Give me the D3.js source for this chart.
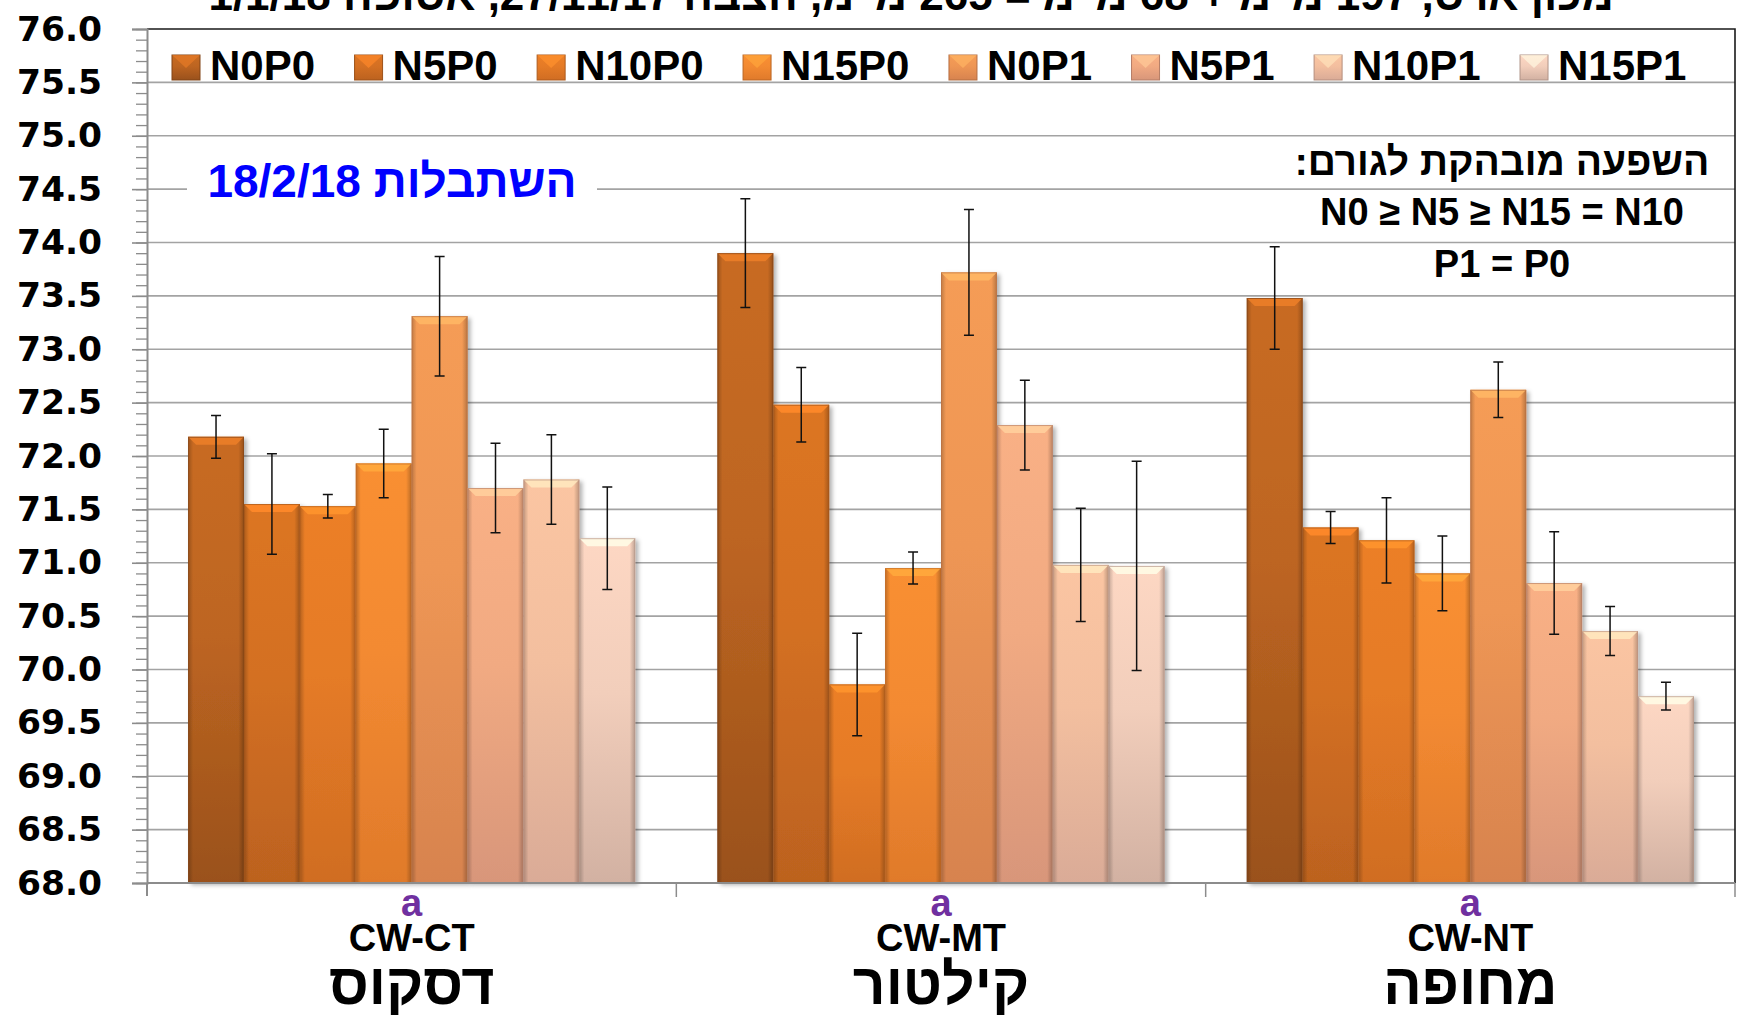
<!DOCTYPE html>
<html><head><meta charset="utf-8">
<script src="https://cdn.jsdelivr.net/npm/d3@7"></script>
<style>html,body{margin:0;padding:0;background:#fff;overflow:hidden}</style>
</head><body><svg id="c" width="1738" height="1021"></svg>
<script>
// ---------- data ----------
const categories = ["CW-CT", "CW-MT", "CW-NT"];
const categoryNames = ["דסקוס", "קילטור", "מחופה"];
const categoryLetters = ["a", "a", "a"];
const seriesNames = ["N0P0", "N5P0", "N10P0", "N15P0", "N0P1", "N5P1", "N10P1", "N15P1"];
const valuesCT = [72.18, 71.55, 71.53, 71.93, 73.31, 71.70, 71.78, 71.23];
const valuesMT = [73.90, 72.48, 69.86, 70.95, 73.72, 72.29, 70.98, 70.97];
const valuesNT = [73.48, 71.33, 71.21, 70.90, 72.62, 70.81, 70.36, 69.75];
const errorsCT = [0.20, 0.47, 0.11, 0.32, 0.56, 0.42, 0.42, 0.48];
const errorsMT = [0.51, 0.35, 0.48, 0.15, 0.59, 0.42, 0.53, 0.98];
const errorsNT = [0.48, 0.15, 0.40, 0.35, 0.26, 0.48, 0.23, 0.13];
const yTickLabels = ["68.0","68.5","69.0","69.5","70.0","70.5","71.0","71.5","72.0","72.5","73.0","73.5","74.0","74.5","75.0","75.5","76.0"];
const titleText = "מכון ארס, 197 מ\"מ + 68 מ\"מ = 265 מ\"מ, הצבה 27/11/17, אסופה 1/1/18";
const dateNote = "השתבלות 18/2/18";
const effectNote = ["השפעה מובהקת לגורם:", "N0 ≥ N5 ≥ N15 = N10", "P1 = P0"];

// ---------- styles ----------
const colTop = ["#C86B22", "#DC7524", "#EC7F27", "#F98F33", "#F59C56", "#F9B085", "#FBC5A2", "#FDD7C3"];
const colBot = ["#9A511C", "#BC621F", "#D06D23", "#E07A2B", "#D7834F", "#D8967A", "#DAAB97", "#D2B1A2"];

const table = categories.map((c, i) => ({
  cat: c,
  vals: [valuesCT, valuesMT, valuesNT][i],
  errs: [errorsCT, errorsMT, errorsNT][i]
}));

const L = 147, R = 1735, T = 29, B = 883;
const svg = d3.select("#c");
const defs = svg.append("defs");

const x0 = d3.scaleBand().domain(categories).range([L, R]).padding(0);
const x1 = d3.scaleBand().domain(seriesNames).range([0, x0.bandwidth()]).paddingInner(0).paddingOuter(0.735);
const y = d3.scaleLinear().domain([68, 76]).range([B, T]);
const yTicks = yTickLabels.map(Number);

// gradients
seriesNames.forEach((s, i) => {
  const g = defs.append("linearGradient").attr("id", "g" + i).attr("x1", 0).attr("y1", 0).attr("x2", 0).attr("y2", 1);
  g.append("stop").attr("offset", "0%").attr("stop-color", colTop[i]);
  g.append("stop").attr("offset", "45%").attr("stop-color", d3.interpolateRgb(colTop[i], colBot[i])(0.25));
  g.append("stop").attr("offset", "100%").attr("stop-color", colBot[i]);
});
const side = defs.append("linearGradient").attr("id", "side").attr("x1", 0).attr("y1", 0).attr("x2", 1).attr("y2", 0);
side.append("stop").attr("offset", "0%").attr("stop-color", "#000").attr("stop-opacity", 0.22);
side.append("stop").attr("offset", "9%").attr("stop-color", "#000").attr("stop-opacity", 0.0);
side.append("stop").attr("offset", "90%").attr("stop-color", "#000").attr("stop-opacity", 0.0);
side.append("stop").attr("offset", "100%").attr("stop-color", "#000").attr("stop-opacity", 0.25);
const shadow = defs.append("filter").attr("id", "sh").attr("x", "-20%").attr("y", "-5%").attr("width", "140%").attr("height", "115%");
shadow.append("feDropShadow").attr("dx", 3).attr("dy", 2).attr("stdDeviation", 2).attr("flood-color", "#000").attr("flood-opacity", 0.3);

// gridlines
svg.append("g").selectAll("line").data(yTicks.filter(v => v > 68 && v < 76)).join("line")
  .attr("x1", L).attr("x2", R).attr("y1", d => y(d)).attr("y2", d => y(d))
  .attr("stroke", "#a3a3a3").attr("stroke-width", 1.6);

// plot border (top, right)
svg.append("path").attr("d", `M${L},${y(76)}H${R}V${B}`).attr("fill", "none").attr("stroke", "#1a1a1a").attr("stroke-width", 1.6);

// date note with white background
const dn = svg.append("g");
dn.append("rect").attr("x", 187).attr("y", y(74.5) - 26).attr("width", 410).attr("height", 52).attr("fill", "#fff");
dn.append("text").attr("x", 392).attr("y", 197).attr("text-anchor", "middle").attr("direction", "rtl")
  .attr("font-family", "Liberation Sans, Arial, sans-serif").attr("font-weight", "bold").attr("font-size", 46)
  .attr("fill", "#0000FF").text(dateNote);

// effect note
const en = svg.append("g").attr("font-family", "Liberation Sans, Arial, sans-serif").attr("font-weight", "bold").attr("fill", "#000");
const enY = [175, 225, 277];
const enSize = [39, 38, 38];
effectNote.forEach((t, i) => {
  en.append("text").attr("x", 1502).attr("y", enY[i]).attr("text-anchor", "middle")
    .attr("direction", i === 0 ? "rtl" : "ltr").attr("font-size", enSize[i]).text(t);
});

// bars
const gBars = svg.append("g");
table.forEach(row => {
  const gx = x0(row.cat);
  row.vals.forEach((v, i) => {
    const bx = gx + x1(seriesNames[i]);
    const bw = x1.bandwidth();
    const by = y(v);
    const bh = B - by;
    const g = gBars.append("g");
    g.append("rect").attr("x", bx).attr("y", by).attr("width", bw).attr("height", bh)
      .attr("fill", `url(#g${i})`).attr("filter", "url(#sh)");
    g.append("rect").attr("x", bx).attr("y", by).attr("width", bw).attr("height", bh).attr("fill", "url(#side)");
    const bv = 8;
    g.append("path").attr("d", `M${bx},${by}H${bx + bw}L${bx + bw - bv},${by + bv}H${bx + bv}Z`)
      .attr("fill", d3.color(colTop[i]).brighter(0.45)).attr("opacity", 0.9);
    g.append("rect").attr("x", bx + 0.5).attr("y", by + 0.5).attr("width", bw - 1).attr("height", bh - 1)
      .attr("fill", "none").attr("stroke", d3.color(colBot[i]).darker(0.4)).attr("stroke-width", 1).attr("opacity", 0.7);
  });
});

// error bars
const gErr = svg.append("g").attr("stroke", "#111").attr("stroke-width", 1.5).attr("fill", "none");
table.forEach(row => {
  const gx = x0(row.cat);
  row.vals.forEach((v, i) => {
    const cx = gx + x1(seriesNames[i]) + x1.bandwidth() / 2;
    const e = row.errs[i];
    const y1 = y(v + e), y2 = y(v - e);
    gErr.append("path").attr("d", `M${cx},${y1}V${y2}M${cx - 5},${y1}H${cx + 5}M${cx - 5},${y2}H${cx + 5}`);
  });
});

// y axis (major + minor)
const minor = d3.range(680, 761).map(d => d / 10);
const gMinor = svg.append("g").attr("transform", `translate(${L},0)`)
  .call(d3.axisLeft(y).tickValues(minor).tickSize(11).tickFormat(""));
gMinor.select(".domain").remove();
gMinor.selectAll("line").attr("stroke", "#8c8c8c").attr("stroke-width", 1.3);
const gY = svg.append("g").attr("transform", `translate(${L},0)`)
  .call(d3.axisLeft(y).tickValues(yTicks).tickSize(15).tickPadding(30).tickFormat((d, i) => yTickLabels[i]));
gY.select(".domain").attr("stroke", "#8c8c8c").attr("stroke-width", 2);
gY.selectAll("line").attr("stroke", "#8c8c8c").attr("stroke-width", 1.6);
gY.selectAll("text").attr("font-family", "DejaVu Sans, Verdana, sans-serif").attr("font-weight", "bold")
  .attr("font-size", 34.5).attr("fill", "#000");
svg.append("line").attr("x1", L).attr("x2", L).attr("y1", B).attr("y2", B + 13).attr("stroke", "#8c8c8c").attr("stroke-width", 2);

// x axis
svg.append("line").attr("x1", L).attr("x2", R).attr("y1", B).attr("y2", B).attr("stroke", "#8c8c8c").attr("stroke-width", 2);
const bounds = categories.map(c => x0(c) + x0.bandwidth());
svg.append("g").selectAll("line").data(bounds).join("line")
  .attr("x1", d => d).attr("x2", d => d).attr("y1", B).attr("y2", B + 14)
  .attr("stroke", "#8c8c8c").attr("stroke-width", 1.5);

// category labels
const gLab = svg.append("g").attr("font-family", "Liberation Sans, Arial, sans-serif").attr("font-weight", "bold").attr("text-anchor", "middle");
categories.forEach((c, i) => {
  const cx = x0(c) + x0.bandwidth() / 2;
  gLab.append("text").attr("x", cx).attr("y", 916).attr("font-size", 38).attr("fill", "#7030A0").text(categoryLetters[i]);
  gLab.append("text").attr("x", cx).attr("y", 951).attr("font-size", 38).attr("fill", "#000").text(c);
  gLab.append("text").attr("x", cx).attr("y", 1004).attr("font-size", 57).attr("direction", "rtl").attr("fill", "#000").text(categoryNames[i]);
});

// legend
const gLeg = svg.append("g").attr("font-family", "Liberation Sans, Arial, sans-serif").attr("font-weight", "bold");
let lx = 172;
seriesNames.forEach((s, i) => {
  gLeg.append("rect").attr("x", lx).attr("y", 55).attr("width", 28).attr("height", 25)
    .attr("fill", `url(#g${i})`).attr("stroke", d3.color(colBot[i]).darker(0.5)).attr("stroke-width", 1);
  gLeg.append("path").attr("d", `M${lx},55H${lx + 28}L${lx + 14},68Z`).attr("fill", d3.color(colTop[i]).brighter(0.4)).attr("opacity", 0.7);
  const t = gLeg.append("text").attr("x", lx + 38).attr("y", 80).attr("font-size", 42).attr("fill", "#000").text(s);
  lx = lx + 38 + t.node().getComputedTextLength() + 39.5;
});

// title (cut at top, as in the reference)
svg.append("text").attr("x", 911).attr("y", 10).attr("text-anchor", "middle").attr("direction", "rtl")
  .attr("font-family", "Liberation Sans, Arial, sans-serif").attr("font-weight", "bold").attr("font-size", 44)
  .attr("fill", "#000").text(titleText);
</script></body></html>
